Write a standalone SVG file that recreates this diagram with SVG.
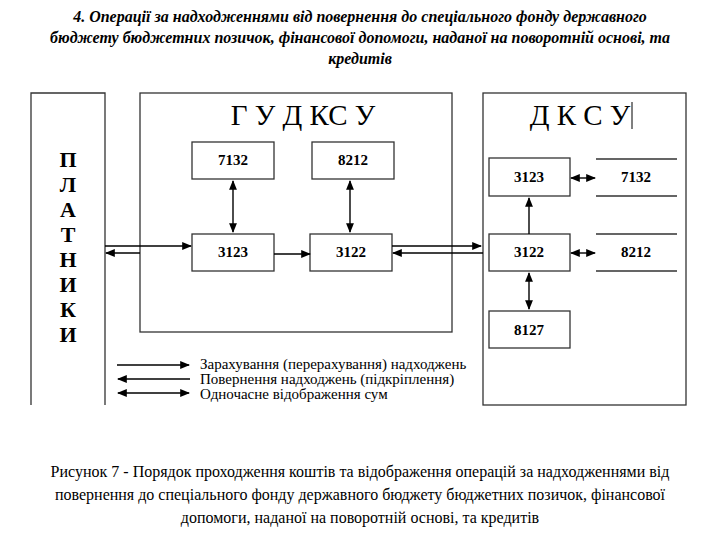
<svg xmlns="http://www.w3.org/2000/svg" width="720" height="540" viewBox="0 0 720 540" font-family="'Liberation Serif', 'DejaVu Serif', serif">
<defs>
<marker id="ah" viewBox="0 0 10 10" refX="9" refY="5" markerWidth="7" markerHeight="7" orient="auto-start-reverse"><path d="M0,1 L10,5 L0,9 z" fill="#000"/></marker>
<style>
text{font-family:'Liberation Serif','DejaVu Serif',serif}
.b{fill:#fff;stroke:#333;stroke-width:1.3}
.o{fill:none;stroke:#333;stroke-width:1.3}
.n{font-weight:bold;font-size:15px;text-anchor:middle}
.h{font-size:29px;text-anchor:middle}
.l{font-size:15px}
.t{font-weight:bold;font-style:italic;font-size:16px;text-anchor:middle}
.c{font-size:16px;text-anchor:middle}
.a{stroke:#000;stroke-width:1.4;fill:none}
</style>
</defs>
<rect width="720" height="540" fill="#fff"/>
<g id="title">
<text class="t" x="360" y="22">4. Операції за надходженнями від повернення до спеціального фонду державного</text>
<text class="t" x="360" y="43">бюджету бюджетних позичок, фінансової допомоги, наданої на поворотній основі, та</text>
<text class="t" x="360" y="64">кредитів</text>
</g>
<g id="platnyky">
<path class="o" d="M31,405 V93 H105 V405"/>
<g class="n" style="font-size:22px">
<text class="n" style="font-size:22px" x="68" y="167">П</text><text class="n" style="font-size:22px" x="68" y="192">Л</text><text class="n" style="font-size:22px" x="68" y="217">А</text><text class="n" style="font-size:22px" x="68" y="242">Т</text><text class="n" style="font-size:22px" x="68" y="267">Н</text><text class="n" style="font-size:22px" x="68" y="292">И</text><text class="n" style="font-size:22px" x="68" y="317">К</text><text class="n" style="font-size:22px" x="68" y="342">И</text>
</g>
</g>
<g id="gudksu">
<rect class="b" x="140" y="93" width="312" height="239"/>
<text class="h" x="303" y="125">Г У Д КС У</text>
</g>
<g id="g7132"><rect class="b" x="192" y="142" width="82" height="37"/><text class="n" x="233" y="165">7132</text></g>
<g id="g8212"><rect class="b" x="312" y="142" width="82" height="37"/><text class="n" x="353" y="165">8212</text></g>
<g id="g3123"><rect class="b" x="192" y="234" width="82" height="37"/><text class="n" x="233" y="257">3123</text></g>
<g id="g3122"><rect class="b" x="310" y="234" width="82" height="37"/><text class="n" x="351" y="257">3122</text></g>
<g id="dksu">
<rect class="b" x="483" y="93" width="203" height="312"/>
<text class="h" x="580" y="125">Д К С У</text>
<line x1="632" y1="102" x2="632" y2="129" stroke="#000" stroke-width="1"/>
</g>
<g id="d3123"><rect class="b" x="489" y="158" width="81" height="38"/><text class="n" x="529" y="182">3123</text></g>
<g id="d7132"><path class="o" d="M596,159 H677 M596,196 H677"/><text class="n" x="636" y="182">7132</text></g>
<g id="d3122"><rect class="b" x="489" y="234" width="81" height="37"/><text class="n" x="529" y="257">3122</text></g>
<g id="d8212"><path class="o" d="M596,234 H677 M596,271 H677"/><text class="n" x="636" y="257">8212</text></g>
<g id="d8127"><rect class="b" x="489" y="311" width="81" height="37"/><text class="n" x="529" y="335">8127</text></g>
<g id="connectors">
<line class="a" x1="105" y1="246" x2="191" y2="246" marker-end="url(#ah)"/>
<line class="a" x1="140" y1="253" x2="106" y2="253" marker-end="url(#ah)"/>
<line class="a" x1="274" y1="254" x2="310" y2="254" marker-end="url(#ah)"/>
<line class="a" x1="392" y1="246" x2="481" y2="246" marker-end="url(#ah)"/>
<line class="a" x1="483" y1="253" x2="393" y2="253" marker-end="url(#ah)"/>
<line class="a" x1="233" y1="181" x2="233" y2="232" marker-start="url(#ah)" marker-end="url(#ah)"/>
<line class="a" x1="350" y1="181" x2="350" y2="232" marker-start="url(#ah)" marker-end="url(#ah)"/>
<line class="a" x1="529" y1="234" x2="529" y2="198" marker-end="url(#ah)"/>
<line class="a" x1="529" y1="273" x2="529" y2="309" marker-start="url(#ah)" marker-end="url(#ah)"/>
<line class="a" x1="571" y1="178" x2="595" y2="178" marker-start="url(#ah)" marker-end="url(#ah)"/>
<line class="a" x1="571" y1="253" x2="595" y2="253" marker-start="url(#ah)" marker-end="url(#ah)"/>
</g>
<g id="legend">
<line class="a" x1="117" y1="365" x2="189" y2="365" marker-end="url(#ah)"/>
<line class="a" x1="190" y1="379" x2="118" y2="379" marker-end="url(#ah)"/>
<line class="a" x1="118" y1="393" x2="189" y2="393" marker-start="url(#ah)" marker-end="url(#ah)"/>
<text class="l" x="200" y="369">Зарахування (перерахування) надходжень</text>
<text class="l" x="200" y="384">Повернення надходжень (підкріплення)</text>
<text class="l" x="200" y="399">Одночасне відображення сум</text>
</g>
<g id="caption">
<text class="c" x="360" y="477">Рисунок  7 -  Порядок проходження коштів та відображення операцій  за надходженнями від</text>
<text class="c" x="360" y="500">повернення до спеціального фонду державного бюджету бюджетних позичок, фінансової</text>
<text class="c" x="360" y="523">допомоги, наданої на поворотній основі, та кредитів</text>
</g>
</svg>
